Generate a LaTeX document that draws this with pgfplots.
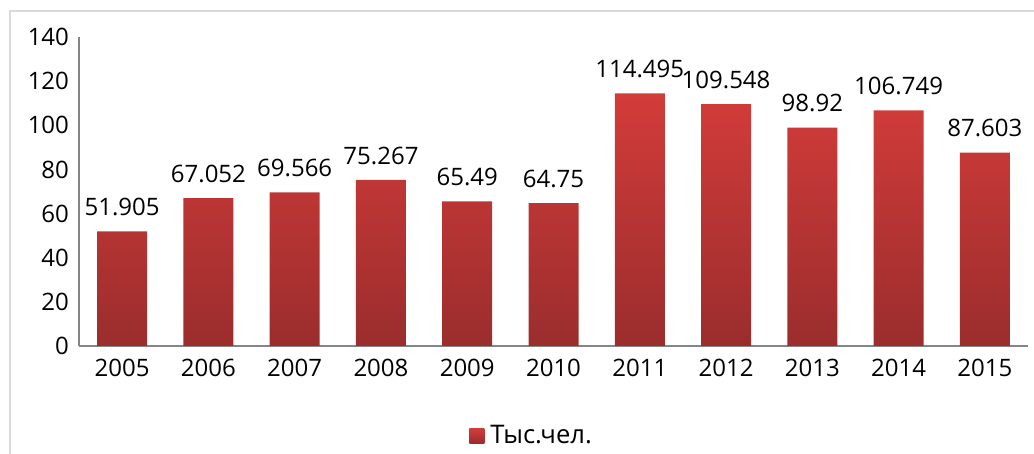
\documentclass[border=0pt]{standalone}
\usepackage{pgfplots}
\pgfplotsset{compat=1.18}
\usepackage{fontspec}
\setmainfont{Open Sans}

\definecolor{bartop}{RGB}{210,60,58}
\definecolor{barbot}{RGB}{155,45,45}
\definecolor{axisgray}{RGB}{134,134,134}
\definecolor{framegray}{RGB}{217,217,217}

\begin{document}
\begin{tikzpicture}
	\useasboundingbox (0,0) rectangle (517pt,227pt);
	% outer chart frame (cropped on right and bottom)
	\draw[framegray, line width=1pt] (5pt,-1pt) -- (5pt,221.5pt) -- (518pt,221.5pt);

	\begin{axis}[
		at				= {(39.5pt,54pt)},
		anchor			= south west,
		scale only axis,
		width			= 474.5pt,
		height			= 154.5pt,
		ybar,
		bar width		= 25pt,
		xmin = -0.5, xmax = 10.5,
		ymin = 0, ymax = 140,
		ytick			= {0,20,...,140},
		xtick			= data,
		xticklabels		= {2005,2006,2007,2008,2009,2010,2011,2012,2013,2014,2015},
		axis lines*		= left,
		axis line style	= {axisgray, line width=0.75pt, -},
		major tick length = 0pt,
		tick label style = {font=\fontsize{12}{14}\selectfont, black},
		yticklabel style = {xshift=-1.5pt},
		xticklabel style = {yshift=-3pt},
		/pgf/number format/assume math mode=true,
		point meta		= explicit symbolic,
		nodes near coords,
		nodes near coords style = {font=\fontsize{12}{14}\selectfont, anchor=south, inner sep=0pt, yshift=7.5pt, black},
		legend style	= {at={(0.478,-0.291)}, anchor=center, draw=none,
			font=\fontsize{12.8}{14}\selectfont, /tikz/every even column/.append style={column sep=0pt}},
		legend image code/.code = {\path[#1, draw=none] (0pt,-3.75pt) rectangle (7.5pt,3.75pt);},
		legend cell align = left,
		clip			= false,
	]
		\addplot[draw=none, top color=bartop, bottom color=barbot] coordinates {
			(0,51.905) [51.905]
			(1,67.052) [67.052]
			(2,69.566) [69.566]
			(3,75.267) [75.267]
			(4,65.49) [65.49]
			(5,64.75) [64.75]
			(6,114.495) [114.495]
			(7,109.548) [109.548]
			(8,98.92) [98.92]
			(9,106.749) [106.749]
			(10,87.603) [87.603]
		};
		\addlegendentry{\hspace{1pt}Тыс.чел.}
	\end{axis}
\end{tikzpicture}
\end{document}
